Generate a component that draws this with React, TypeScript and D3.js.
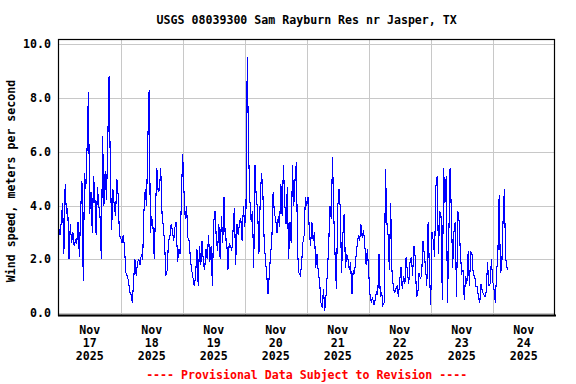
import React, { useEffect, useRef } from 'react';
import * as d3 from 'd3';

// wind speed, m/s, every 30 minutes starting Nov 17 2025 00:00
const nov17 = [3.2, 2.9, 3.4, 4.1, 2.2, 4.8, 3.7, 3.9, 2.0, 3.3, 2.6, 3.0, 2.5, 2.7, 2.6, 3.4, 2.1, 3.8, 4.9, 1.2, 5.2, 4.6, 6.2, 8.2,
  3.7, 4.5, 3.0, 5.1, 4.3, 2.9, 4.7, 4.0, 3.6, 2.0, 6.6, 4.0, 5.3, 4.2, 6.4, 8.8, 5.3, 3.1, 4.6, 4.0, 3.6, 5.0, 4.4, 2.9];
const nov18 = [2.8, 2.6, 2.9, 2.4, 1.5, 1.4, 1.2, 0.8, 0.7, 0.4, 1.2, 2.0, 1.4, 1.9, 2.0, 1.8, 2.2, 2.0, 3.8, 4.6, 4.0, 6.4, 8.3, 3.0,
  3.6, 3.2, 2.0, 3.9, 5.4, 4.5, 4.6, 5.4, 3.7, 3.2, 2.6, 1.4, 1.6, 2.7, 2.8, 3.3, 3.1, 2.7, 3.2, 3.4, 1.9, 2.4, 2.2, 4.4];
const nov19 = [5.9, 4.5, 3.5, 4.0, 2.8, 2.7, 2.0, 1.6, 1.3, 1.0, 1.4, 2.4, 1.0, 2.5, 1.8, 2.7, 1.9, 1.6, 2.4, 2.0, 2.9, 1.9, 2.5, 1.0,
  3.4, 3.8, 2.8, 2.3, 3.3, 2.0, 3.6, 2.6, 4.3, 2.7, 2.8, 1.6, 2.6, 2.5, 2.3, 3.1, 3.9, 1.8, 3.3, 2.9, 3.4, 3.5, 2.7, 4.0];
const nov20 = [3.2, 3.9, 9.5, 6.1, 4.2, 3.4, 3.8, 1.7, 5.5, 4.2, 3.9, 2.2, 4.2, 5.2, 4.6, 2.8, 2.0, 1.5, 0.7, 1.4, 2.2, 2.7, 4.5, 3.7,
  3.5, 3.0, 3.6, 3.2, 4.8, 3.6, 5.5, 4.1, 3.3, 4.7, 2.0, 3.4, 2.6, 5.5, 4.0, 5.0, 5.6, 2.2, 1.5, 1.4, 1.8, 2.6, 2.9, 4.3];
const nov21 = [4.0, 4.3, 3.1, 2.5, 3.4, 2.7, 3.0, 1.7, 2.2, 1.5, 1.2, 0.4, 0.2, 0.9, 0.1, 0.7, 1.5, 2.5, 4.0, 3.5, 5.8, 3.6, 2.1, 0.9,
  3.9, 4.6, 3.9, 1.5, 2.9, 3.7, 1.7, 2.2, 2.0, 1.6, 1.9, 0.7, 1.6, 1.5, 2.0, 2.5, 2.9, 2.7, 3.3, 2.8, 3.1, 2.5, 1.8, 2.4];
const nov22 = [1.5, 0.7, 0.4, 0.6, 0.3, 0.5, 0.8, 0.7, 2.2, 0.6, 0.8, 0.3, 0.4, 5.35, 3.4, 2.9, 1.6, 4.1, 1.6, 1.0, 0.75, 0.9, 1.0, 0.6,
  1.2, 1.7, 0.9, 1.4, 1.1, 2.1, 1.5, 1.1, 1.9, 2.1, 1.4, 2.5, 2.1, 0.6, 0.7, 1.5, 1.3, 1.4, 2.7, 2.2, 1.7, 1.0, 3.4, 1.6];
const nov23 = [0.3, 3.0, 2.7, 2.1, 4.7, 5.1, 2.2, 3.8, 3.6, 0.5, 5.4, 4.1, 5.1, 0.4, 2.8, 5.4, 3.7, 1.7, 3.0, 3.4, 0.6, 3.8, 3.4, 2.2,
  1.5, 1.6, 0.5, 1.4, 1.1, 2.3, 1.0, 2.3, 2.2, 1.4, 1.4, 1.0, 1.0, 0.6, 0.4, 1.1, 0.8, 0.7, 0.6, 0.8, 1.9, 1.0, 1.1, 2.0];
const nov24 = [1.2, 0.9, 0.4, 1.5, 2.2, 4.4, 1.5, 1.7, 3.4, 4.6, 2.1, 1.7, 1.6];

const windSpeed = [...nov17, ...nov18, ...nov19, ...nov20, ...nov21, ...nov22, ...nov23, ...nov24];
const yTicks = [0, 2, 4, 6, 8, 10];
const dayLabels = ['17', '18', '19', '20', '21', '22', '23', '24'];

const W = 576;
const H = 384;
const FONT = '"DejaVu Sans Mono", "Liberation Mono", monospace';

const App: React.FC = () => {
  const svgRef = useRef<SVGSVGElement | null>(null);

  useEffect(() => {
    const svg = d3.select(svgRef.current);
    svg.selectAll('*').remove();

    const start = new Date(2025, 10, 17);
    const end = new Date(2025, 10, 25);
    const x = d3.scaleTime().domain([start, end]).range([58.7, 554.7]);
    const y = d3.scaleLinear().domain([0, 10]).range([313.3, 44]);

    const data = windSpeed.map((v, i) => ({ t: new Date(start.getTime() + i * 30 * 60 * 1000), v }));
    const days = d3.timeDay.range(start, end);

    // gridlines
    svg.append('g')
      .selectAll('line')
      .data(yTicks)
      .enter()
      .append('line')
      .attr('x1', 59).attr('x2', 555)
      .attr('y1', (d) => Math.round(y(d)) + 0.5)
      .attr('y2', (d) => Math.round(y(d)) + 0.5)
      .attr('stroke', '#c8c8c8')
      .attr('stroke-width', 1);

    svg.append('g')
      .selectAll('line')
      .data(days.slice(1))
      .enter()
      .append('line')
      .attr('x1', (d) => Math.round(x(d)) + 0.5)
      .attr('x2', (d) => Math.round(x(d)) + 0.5)
      .attr('y1', 40).attr('y2', 315)
      .attr('stroke', '#c8c8c8')
      .attr('stroke-width', 1);

    // data line
    const line = d3.line<{ t: Date; v: number }>()
      .x((d) => x(d.t))
      .y((d) => y(d.v));

    svg.append('path')
      .datum(data)
      .attr('d', line)
      .attr('fill', 'none')
      .attr('stroke', '#0000ff')
      .attr('stroke-width', 1.1)
      .attr('shape-rendering', 'crispEdges');

    // frame
    svg.append('rect')
      .attr('x', 58.5).attr('y', 39.5)
      .attr('width', 496).attr('height', 276)
      .attr('fill', 'none')
      .attr('stroke', '#000')
      .attr('stroke-width', 1.2);
    svg.append('line')
      .attr('x1', 58).attr('x2', 556)
      .attr('y1', 315.5).attr('y2', 315.5)
      .attr('stroke', '#000')
      .attr('stroke-width', 2);

    // y tick labels
    svg.append('g')
      .selectAll('text')
      .data(yTicks)
      .enter()
      .append('text')
      .attr('x', 51)
      .attr('y', (d) => y(d) + 4)
      .attr('text-anchor', 'end')
      .text((d) => d.toFixed(1));

    // x tick labels
    const xl = svg.append('g')
      .selectAll('g')
      .data(days)
      .enter()
      .append('g')
      .attr('transform', (d) => `translate(${x(d3.timeHour.offset(d, 12))},0)`);
    xl.append('text').attr('y', 334).attr('text-anchor', 'middle').text('Nov');
    xl.append('text').attr('y', 347).attr('text-anchor', 'middle').text((_, i) => dayLabels[i]);
    xl.append('text').attr('y', 360).attr('text-anchor', 'middle').text('2025');

    svg.append('text')
      .attr('x', 306.7).attr('y', 24)
      .attr('text-anchor', 'middle')
      .text('USGS 08039300 Sam Rayburn Res nr Jasper, TX');

    svg.append('text')
      .attr('transform', 'translate(15,181) rotate(-90)')
      .attr('text-anchor', 'middle')
      .text('Wind speed, meters per second');

    svg.append('text')
      .attr('x', 306.7).attr('y', 379)
      .attr('text-anchor', 'middle')
      .attr('fill', '#ff0000')
      .text('---- Provisional Data Subject to Revision ----');

    svg.selectAll('text')
      .attr('font-family', FONT)
      .attr('font-size', 11.6)
      .attr('font-weight', 'bold');
  }, []);

  return (
    <svg
      ref={svgRef}
      width={W}
      height={H}
      style={{ position: 'absolute', left: 0, top: 0, background: '#fff' }}
    />
  );
};

export default App;
